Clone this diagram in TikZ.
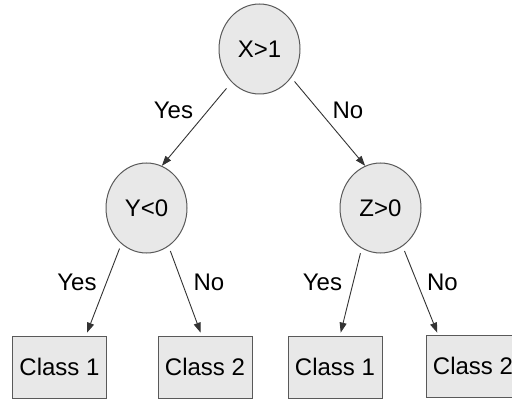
\documentclass[tikz,border=0pt]{standalone}
\usepackage{fontspec}
\setmainfont{Liberation Sans}
\usetikzlibrary{shapes,arrows.meta}
\pgfdeclarelayer{edgelayer}
\pgfdeclarelayer{nodelayer}
\pgfsetlayers{edgelayer,nodelayer,main}
\tikzset{font=\fontsize{24}{28}\selectfont}
\tikzstyle{none}=[inner sep=0pt]
\tikzstyle{test}=[ellipse,draw=black!65,fill=black!9,line width=1pt,minimum width=81pt,minimum height=90pt,inner sep=0pt]
\tikzstyle{leaf}=[rectangle,draw=black!65,fill=black!9,line width=1pt,minimum width=94pt,minimum height=62pt,inner sep=0pt]
\tikzstyle{branch}=[draw=black!80,line width=0.9pt,-{Triangle[length=10pt,width=7pt]},shorten <=5pt]

\begin{document}
\begin{tikzpicture}[x=1pt,y=-1pt]
	\useasboundingbox (0,0) rectangle (512,401);
	\begin{pgfonlayer}{nodelayer}
		\node [style=test] (0) at (259.5, 49) {X>1};
		\node [style=test] (1) at (146.5, 208) {Y<0};
		\node [style=test] (2) at (380.5, 208) {Z>0};
		\node [style=leaf] (3) at (59.5, 367) {Class 1};
		\node [style=leaf] (4) at (205, 367) {Class 2};
		\node [style=leaf] (5) at (335, 367) {Class 1};
		\node [style=leaf] (6) at (473, 366) {Class 2};
		\node [style=none] (7) at (173.5, 110) {Yes};
		\node [style=none] (8) at (348, 110) {No};
		\node [style=none] (9) at (77, 282) {Yes};
		\node [style=none] (10) at (209, 282) {No};
		\node [style=none] (11) at (322.5, 282) {Yes};
		\node [style=none] (12) at (442.5, 282) {No};
	\end{pgfonlayer}
	\begin{pgfonlayer}{edgelayer}
		\draw [style=branch, shorten <=8pt] (0.230) to (1.70);
		\draw [style=branch] (0.318) to (2.110);
		\draw [style=branch, shorten >=3pt] (1.235) to (3.50);
		\draw [style=branch, shorten >=3pt] (1.300) to (4.96);
		\draw [style=branch, shorten >=3pt] (2.245) to (5.81);
		\draw [style=branch, shorten >=2pt] (2.300) to (6.138);
	\end{pgfonlayer}
\end{tikzpicture}
\end{document}
